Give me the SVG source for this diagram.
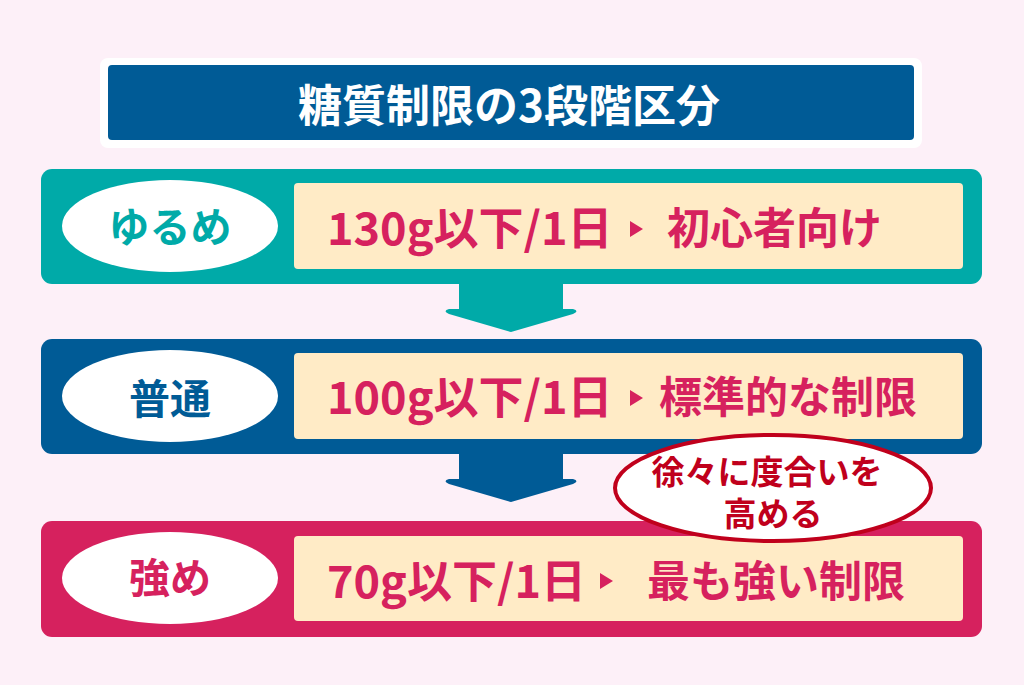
<svg xmlns="http://www.w3.org/2000/svg" width="1024" height="685" viewBox="0 0 1024 685">
<style>
.t{font-family:"Noto Sans CJK JP","Noto Sans",sans-serif;font-weight:bold}
.main{font-size:43px;fill:#d6215e}
.big{font-size:45px}
.lab{font-size:41px;text-anchor:middle}
.cream{fill:#ffebc6}
.oval{fill:#ffffff}
.tri{fill:#d6215e}
</style>
<rect width="1024" height="685" fill="#fdf0f8"/>
<g id="title">
<rect x="100" y="58" width="822" height="90" rx="8" fill="#ffffff"/>
<rect x="108" y="65" width="806" height="75" rx="4" fill="#005b96"/>
<text class="t" x="509" y="122" font-size="44" fill="#ffffff" text-anchor="middle">糖質制限の3段階区分</text>
</g>
<g id="connectors">
<path d="M459 280 H563 V309 H573 Q580 311 573 314 L511 332 L449 314 Q442 311 449 309 H459 Z" fill="#00aaa8"/>
<path d="M459 450 H563 V479 H573 Q580 481 573 484 L511 502 L449 484 Q442 481 449 479 H459 Z" fill="#005b96"/>
</g>
<g id="row1">
<rect x="41" y="169" width="941" height="115" rx="11" fill="#00aaa8"/>
<ellipse class="oval" cx="170" cy="226" rx="108" ry="46"/>
<text class="t lab" x="170" y="242" fill="#00aaa8">ゆるめ</text>
<rect class="cream" x="294" y="183" width="669" height="86" rx="4"/>
<text class="t main big" x="327" y="245">130g以下/1日</text>
<polygon class="tri" points="630,221 643,229 630,237"/>
<text class="t main" x="667" y="244">初心者向け</text>
</g>
<g id="row2">
<rect x="41" y="339" width="941" height="115" rx="11" fill="#005b96"/>
<ellipse class="oval" cx="170" cy="396" rx="108" ry="46"/>
<text class="t lab" x="170" y="414" fill="#005b96">普通</text>
<rect class="cream" x="294" y="353" width="669" height="86" rx="4"/>
<text class="t main big" x="327" y="414">100g以下/1日</text>
<polygon class="tri" points="630,390 643,398 630,406"/>
<text class="t main" x="659" y="413">標準的な制限</text>
</g>
<g id="row3">
<rect x="41" y="521" width="941" height="116" rx="11" fill="#d6215e"/>
<ellipse class="oval" cx="170" cy="578" rx="108" ry="46"/>
<text class="t lab" x="170" y="593" fill="#d6215e">強め</text>
<rect class="cream" x="294" y="536" width="669" height="85" rx="4"/>
<text class="t main big" x="327" y="598">70g以下/1日</text>
<polygon class="tri" points="600,573 613,581 600,589"/>
<text class="t main" x="647" y="597">最も強い制限</text>
</g>
<g id="note">
<ellipse cx="773" cy="488" rx="158" ry="53" fill="#ffffff" stroke="#c0001c" stroke-width="4"/>
<text class="t" x="767" y="484" font-size="33" fill="#c0001c" text-anchor="middle">徐々に度合いを</text>
<text class="t" x="773" y="526" font-size="33" fill="#c0001c" text-anchor="middle">高める</text>
</g>
</svg>
